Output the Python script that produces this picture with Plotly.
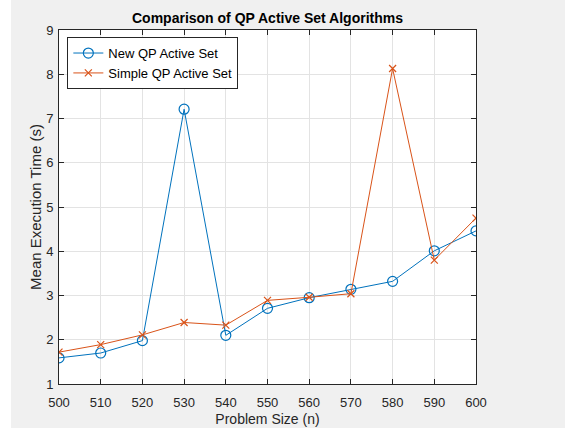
import plotly.graph_objects as go

problem_size = [500, 510, 520, 530, 540, 550, 560, 570, 580, 590, 600]
new_qp = [1.59, 1.70, 1.98, 7.21, 2.10, 2.71, 2.95, 3.14, 3.32, 4.01, 4.46]
simple_qp = [1.72, 1.89, 2.11, 2.39, 2.33, 2.89, 2.96, 3.04, 8.13, 3.80, 4.75]
x_ticks = [500, 510, 520, 530, 540, 550, 560, 570, 580, 590, 600]
y_ticks = [1, 2, 3, 4, 5, 6, 7, 8, 9]

W, H = 565, 428
L, R, T, B = 59, 89, 30, 44
pw = W - L - R
FONT = "Liberation Sans, Arial, sans-serif"

fig = go.Figure()
fig.add_trace(go.Scatter(
    x=problem_size, y=new_qp, mode="lines+markers", name="New QP Active Set",
    line=dict(color="#0072BD", width=1),
    marker=dict(symbol="circle-open", size=10, color="#0072BD", line=dict(width=1.2)),
))
fig.add_trace(go.Scatter(
    x=problem_size, y=simple_qp, mode="lines+markers", name="Simple QP Active Set",
    line=dict(color="#D95319", width=1),
    marker=dict(symbol="x-thin-open", size=7, color="#D95319", line=dict(width=1.2, color="#D95319")),
))

axis_common = dict(
    showline=True, linecolor="#262626", linewidth=1, mirror="ticks",
    ticks="inside", ticklen=5, tickcolor="#262626",
    showgrid=True, gridcolor="#e3e3e3", gridwidth=1, zeroline=False,
    automargin=False,
    tickfont=dict(family=FONT, size=13, color="#262626"),
)

fig.update_xaxes(range=[500, 600], tickvals=x_ticks, ticktext=[str(v) for v in x_ticks],
                 ticklabelstandoff=6,
                 title=dict(text="Problem Size (n)", standoff=5,
                            font=dict(family=FONT, size=14, color="#262626")),
                 **axis_common)
fig.update_yaxes(range=[1, 9], tickvals=y_ticks, ticktext=[str(v) for v in y_ticks],
                 ticklabelstandoff=2,
                 title=dict(text="Mean Execution Time (s)", standoff=0,
                            font=dict(family=FONT, size=15, color="#262626")),
                 **axis_common)

fig.add_shape(type="rect", xref="paper", yref="paper", x0=-L / pw, x1=(11 - L) / pw,
              y0=-1, y1=2, fillcolor="white", line=dict(width=0), layer="below")

fig.update_layout(
    width=W, height=H,
    margin=dict(l=L, r=R, t=T, b=B, autoexpand=False),
    paper_bgcolor="#f0f0f0", plot_bgcolor="white",
    title=dict(text="<b>Comparison of QP Active Set Algorithms</b>", x=(L + pw / 2) / W, xanchor="center",
               y=1 - 18 / H, yanchor="middle",
               font=dict(family=FONT, size=14, color="black")),
    showlegend=True,
    legend=dict(x=0.02, y=0.98, xanchor="left", yanchor="top", bgcolor="white",
                bordercolor="#262626", borderwidth=1,
                font=dict(family=FONT, size=13, color="black"),
                tracegroupgap=0, itemwidth=30),
)

fig.write_html("out.html")
